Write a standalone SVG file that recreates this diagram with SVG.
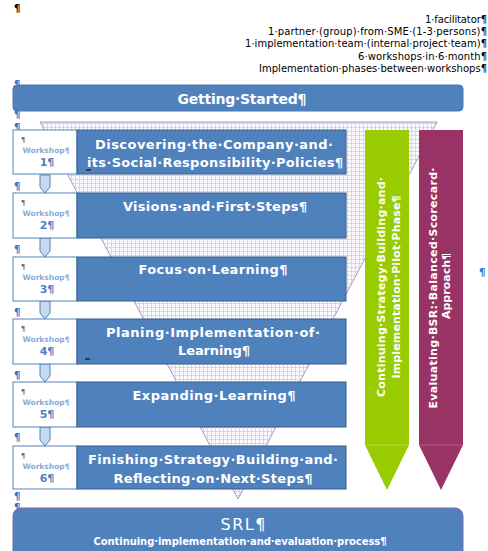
<svg xmlns="http://www.w3.org/2000/svg" width="488" height="551" viewBox="0 0 488 551">
<style>
.hdr{font-family:"DejaVu Sans","Liberation Sans",sans-serif;font-size:10px;fill:#000;text-anchor:end}
.pil{font-family:"DejaVu Sans","Liberation Sans",sans-serif;font-size:10px;font-weight:bold;fill:#2e74d0}
.bar{fill:#4f81bd;stroke:#4a76b0;stroke-width:1}
.box{fill:#4f81bd;stroke:#385d8a;stroke-width:1}
.ws{fill:#fff;stroke:#4f81bd;stroke-width:1}
.bt{font-family:"DejaVu Sans","Liberation Sans",sans-serif;font-size:13px;font-weight:bold;fill:#fff;text-anchor:middle}
.wl{font-family:"DejaVu Sans","Liberation Sans",sans-serif;font-size:7.5px;font-weight:bold;fill:#8aaad8;text-anchor:middle}
.wn{font-family:"DejaVu Sans","Liberation Sans",sans-serif;font-size:11px;font-weight:bold;fill:#4f81bd;text-anchor:middle}
.wp{font-family:"DejaVu Sans","Liberation Sans",sans-serif;font-size:7px;fill:#555}
.rt{font-family:"DejaVu Sans","Liberation Sans",sans-serif;font-size:11px;font-weight:bold;fill:#fff;text-anchor:middle}
.chev{fill:#c6d9f1;stroke:#4f81bd;stroke-width:1}
</style>
<defs>
<pattern id="grid" width="4" height="4" patternUnits="userSpaceOnUse">
<rect width="4" height="4" fill="#fbfaff"/>
<rect x="3" y="0" width="1" height="4" fill="#dcd2ec"/>
<rect x="0" y="3" width="4" height="1" fill="#dcd2ec"/>
</pattern>
</defs>
<rect width="488" height="551" fill="#fff"/>

<text x="14" y="12" class="pil" style="fill:#000">¶</text>

<g id="header">
<text class="hdr" x="487" y="23" textLength="62">1·facilitator¶</text>
<text class="hdr" x="487" y="35" textLength="219">1·partner·(group)·from·SME·(1-3·persons)¶</text>
<text class="hdr" x="487" y="47" textLength="242">1·implementation·team·(internal·project·team)¶</text>
<text class="hdr" x="487" y="60" textLength="129">6·workshops·in·6·month¶</text>
<text class="hdr" x="487" y="72" textLength="228">Implementation·phases·between·workshops¶</text>
</g>

<g id="funnel">
<polygon points="40,122 437,122 238,499" fill="url(#grid)" stroke="#a897c8" stroke-width="1"/>
</g>

<g id="margin-marks">
<text class="pil" x="14" y="88">¶</text>
<text class="pil" x="14" y="118">¶</text>
<text class="pil" x="14" y="131">¶</text>
<text class="pil" x="14" y="190">¶</text>
<text class="pil" x="14" y="253">¶</text>
<text class="pil" x="14" y="316">¶</text>
<text class="pil" x="14" y="379">¶</text>
<text class="pil" x="14" y="441">¶</text>
<text class="pil" x="14" y="500">¶</text>
<text class="pil" x="14" y="511">¶</text>
<text class="pil" x="479" y="276">¶</text>
</g>

<g id="getting-started">
<rect class="bar" x="13" y="85" width="450" height="26" rx="4"/>
<text class="bt" x="242" y="104" style="font-size:14px" textLength="129">Getting·Started¶</text>
</g>

<g id="connectors">
<polygon class="chev" points="40,175 50,175 50,187 45,193 40,187"/>
<polygon class="chev" points="40,238 50,238 50,251 45,257 40,251"/>
<polygon class="chev" points="40,301 50,301 50,313 45,319 40,313"/>
<polygon class="chev" points="40,364 50,364 50,376 45,382 40,376"/>
<polygon class="chev" points="40,427 50,427 50,440 45,446 40,440"/>
</g>

<g id="workshop1">
<rect class="ws" x="13" y="130" width="64" height="44"/>
<text class="wp" x="21" y="142">¶</text>
<text class="wl" x="46" y="153">Workshop¶</text>
<text class="wn" x="47" y="166">1¶</text>
<rect class="box" x="77" y="130" width="269" height="44"/>
<text class="bt" x="214" y="149" textLength="238">Discovering·the·Company·and·</text>
<text class="bt" x="215" y="167" textLength="256">its·Social·Responsibility·Policies¶</text>
<line x1="86" y1="170" x2="91" y2="170" stroke="#111" stroke-width="1.2"/>
</g>

<g id="workshop2">
<rect class="ws" x="13" y="193" width="64" height="45"/>
<text class="wp" x="21" y="205">¶</text>
<text class="wl" x="46" y="216">Workshop¶</text>
<text class="wn" x="47" y="229">2¶</text>
<rect class="box" x="77" y="193" width="269" height="45"/>
<text class="bt" x="215" y="211" textLength="184">Visions·and·First·Steps¶</text>
</g>

<g id="workshop3">
<rect class="ws" x="13" y="257" width="64" height="44"/>
<text class="wp" x="21" y="269">¶</text>
<text class="wl" x="46" y="280">Workshop¶</text>
<text class="wn" x="47" y="293">3¶</text>
<rect class="box" x="77" y="257" width="269" height="44"/>
<text class="bt" x="213" y="274" textLength="149">Focus·on·Learning¶</text>
</g>

<g id="workshop4">
<rect class="ws" x="13" y="319" width="64" height="45"/>
<text class="wp" x="21" y="331">¶</text>
<text class="wl" x="46" y="342">Workshop¶</text>
<text class="wn" x="47" y="355">4¶</text>
<rect class="box" x="77" y="319" width="269" height="45"/>
<text class="bt" x="213" y="337" textLength="214">Planing·Implementation·of·</text>
<text class="bt" x="214" y="355" textLength="72">Learning¶</text>
<line x1="85" y1="359" x2="90" y2="359" stroke="#111" stroke-width="1.2"/>
</g>

<g id="workshop5">
<rect class="ws" x="13" y="382" width="64" height="45"/>
<text class="wp" x="21" y="394">¶</text>
<text class="wl" x="46" y="405">Workshop¶</text>
<text class="wn" x="47" y="418">5¶</text>
<rect class="box" x="77" y="382" width="269" height="45"/>
<text class="bt" x="214" y="400" textLength="163">Expanding·Learning¶</text>
</g>

<g id="workshop6">
<rect class="ws" x="13" y="446" width="64" height="43"/>
<text class="wp" x="21" y="458">¶</text>
<text class="wl" x="46" y="469">Workshop¶</text>
<text class="wn" x="47" y="482">6¶</text>
<rect class="box" x="77" y="446" width="269" height="43"/>
<text class="bt" x="213" y="464" textLength="250">Finishing·Strategy·Building·and·</text>
<text class="bt" x="213" y="483" textLength="199">Reflecting·on·Next·Steps¶</text>
</g>

<g id="green-arrow">
<polygon points="365,130 409,130 409,445 387,490 365,445" fill="#99cc00"/>
<line x1="365" y1="445" x2="409" y2="445" stroke="#b3d94d" stroke-width="1"/>
<text class="rt" transform="translate(385,287) rotate(-90)" textLength="220">Continuing·Strategy·Building·and·</text>
<text class="rt" transform="translate(400,287) rotate(-90)" textLength="183">Implementation·Pilot·Phase¶</text>
</g>

<g id="purple-arrow">
<polygon points="419,130 463,130 463,445 441,490 419,445" fill="#993366"/>
<line x1="419" y1="445" x2="463" y2="445" stroke="#b0607f" stroke-width="1"/>
<text class="rt" transform="translate(437,288) rotate(-90)" textLength="241">Evaluating·BSR:·Balanced·Scorecard·</text>
<text class="rt" transform="translate(450,286) rotate(-90)" textLength="66">Approach¶</text>
</g>

<g id="srl">
<rect x="13" y="508" width="450" height="60" rx="8" fill="#4f81bd" stroke="#8064a2" stroke-width="1"/>
<text x="243" y="530" font-family="DejaVu Sans, Liberation Sans, sans-serif" font-size="16" fill="#fff" text-anchor="middle" textLength="45">SRL¶</text>
<text x="240" y="545" font-family="DejaVu Sans, Liberation Sans, sans-serif" font-size="10" font-weight="bold" fill="#fff" text-anchor="middle" textLength="293">Continuing·implementation·and·evaluation·process¶</text>
</g>
</svg>
